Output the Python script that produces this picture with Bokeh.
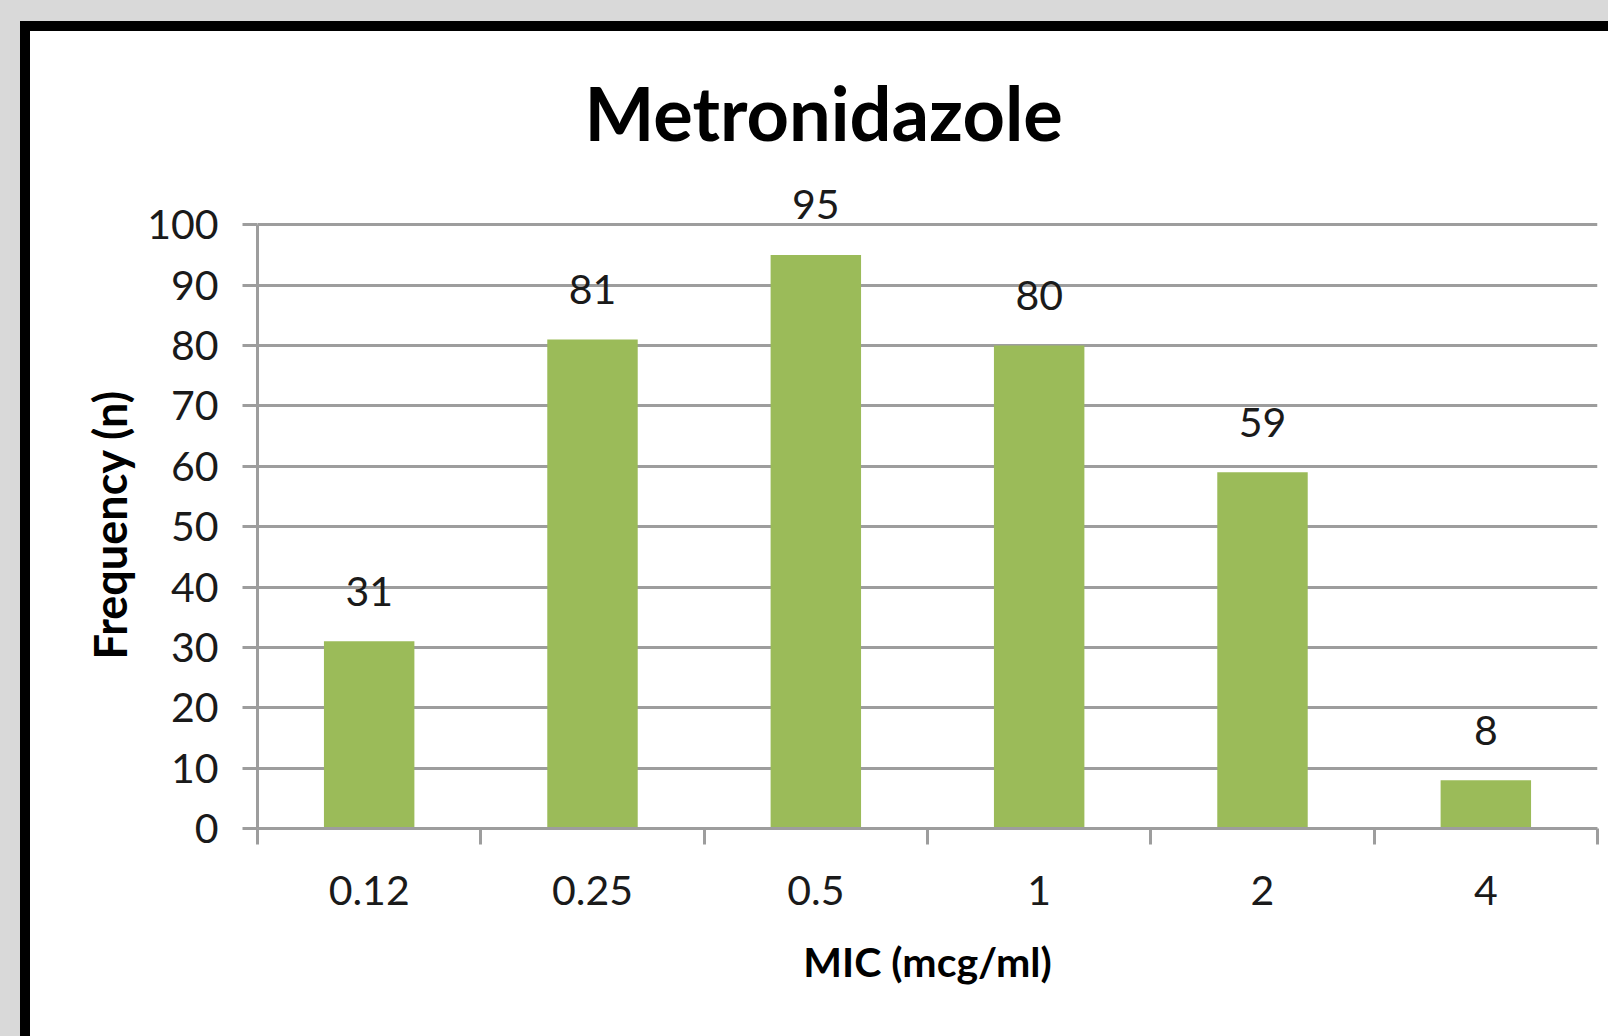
from bokeh.plotting import figure
from bokeh.layouts import column
from bokeh.models import Range1d, FixedTicker, ColumnDataSource, Title
from bokeh.core.properties import value
from bokeh.embed import file_html
from bokeh.resources import INLINE

# ---- data ----
categories = ["0.12", "0.25", "0.5", "1", "2", "4"]
frequency = [31, 81, 95, 80, 59, 8]
y_ticks = [0, 10, 20, 30, 40, 50, 60, 70, 80, 90, 100]
title_text = "Metronidazole"
x_title = "MIC (mcg/ml)"
y_title = "Frequency (n)"

# ---- layout constants (canvas pixel coords) ----
W, H = 1578, 1005
FL, FR, FT, FB = 227, 1567, 145, 797  # frame left/right/top/bottom
Y_MAX = 108  # headroom above 100 for the data labels

xs = [i + 0.5 for i in range(len(categories))]
src = ColumnDataSource(dict(x=xs, top=frequency, label=[str(v) for v in frequency]))

p = figure(width=W, height=H, output_backend="svg", toolbar_location=None,
           x_range=Range1d(0, len(categories)), y_range=Range1d(0, Y_MAX),
           min_border_left=FL, min_border_right=W - FR,
           min_border_top=FT, min_border_bottom=H - FB,
           background_fill_color="white", border_fill_color="white",
           styles={"background-color": "white"})
p.outline_line_color = None

FONT = "Lato"
TXT = "#1a1a1a"
GRID = "#9d9d9d"

# title
p.title.text = title_text
p.title.text_font = FONT
p.title.text_font_style = "bold"
p.title.text_font_size = "74px"
p.title.text_color = "black"
p.title.align = "left"
p.title.offset = 327
p.title.standoff = 39

# bars
p.vbar(x="x", top="top", bottom=0, width=0.405, source=src, fill_color="#9bbb59", line_color=None)

# data labels
p.text(x="x", y="top", text="label", source=src, text_align="center",
       text_baseline="alphabetic", y_offset=-50,
       text_font=value(FONT), text_font_size=value("41px"), text_color=TXT)

# x axis
xa = p.xaxis[0]
xa.ticker = FixedTicker(ticks=xs, minor_ticks=list(range(len(categories) + 1)))
xa.major_label_overrides = {x: c for x, c in zip(xs, categories)}
xa.major_tick_line_color = None
xa.major_tick_out = 0
xa.major_tick_in = 0
xa.minor_tick_line_color = GRID
xa.minor_tick_line_width = 3
xa.minor_tick_out = 16
xa.minor_tick_in = 0
xa.axis_line_color = GRID
xa.axis_line_width = 3
xa.major_label_text_font = FONT
xa.major_label_text_font_size = "41px"
xa.major_label_text_color = TXT
xa.major_label_standoff = 31
xa.axis_label = x_title
xa.axis_label_text_font = FONT
xa.axis_label_text_font_style = "bold"
xa.axis_label_text_font_size = "41px"
xa.axis_label_text_color = "black"
xa.axis_label_standoff = 29

# y axis
ya = p.yaxis[0]
ya.ticker = FixedTicker(ticks=y_ticks)
ya.bounds = (0, 100)
ya.major_tick_line_color = GRID
ya.major_tick_line_width = 3
ya.major_tick_out = 15
ya.major_tick_in = 0
ya.minor_tick_line_color = None
ya.axis_line_color = GRID
ya.axis_line_width = 3
ya.major_label_text_font = FONT
ya.major_label_text_font_size = "41px"
ya.major_label_text_color = TXT
ya.major_label_standoff = 24

# y axis title, centred on the 0..100 span (offset measured from the frame bottom)
p.add_layout(Title(text=y_title, align="left", vertical_align="bottom",
                   offset=169, standoff=16, text_font=FONT, text_font_style="bold",
                   text_font_size="45px", text_color="black"), "left")

# grid
p.xgrid.visible = False
p.ygrid.ticker = FixedTicker(ticks=y_ticks)
p.ygrid.grid_line_color = GRID
p.ygrid.grid_line_width = 3

# black chart border on a light-gray page background
inner = column(p, styles={"background-color": "black", "padding-left": "10px", "padding-top": "10px"})
outer = column(inner, styles={"background-color": "#d9d9d9", "padding-left": "20px", "padding-top": "21px"})

open("out.html", "w").write(file_html(outer, INLINE))
